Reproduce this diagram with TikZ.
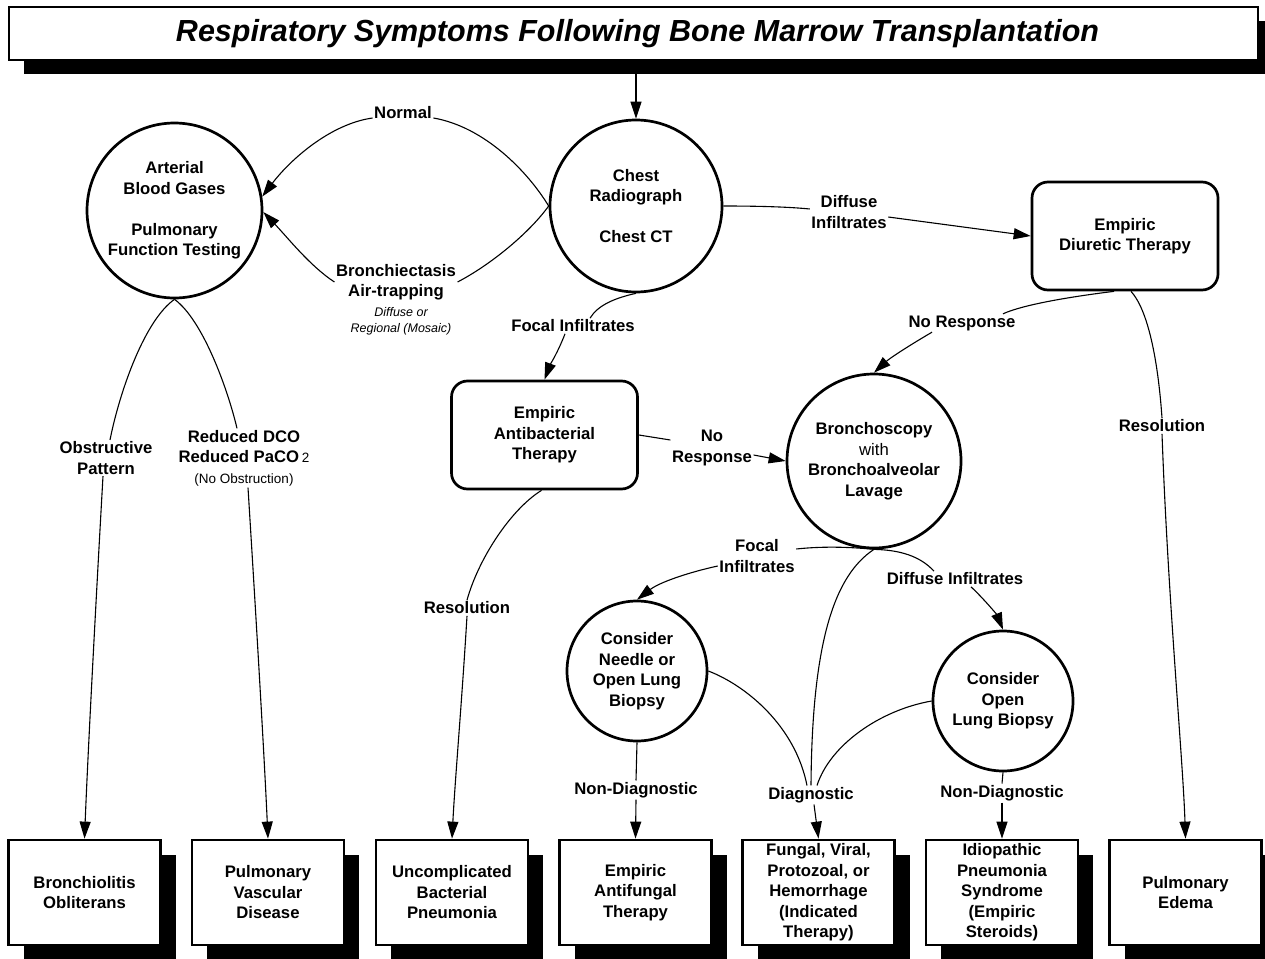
\documentclass[tikz,border=0pt]{standalone}
\usepackage{fontspec}
\setmainfont{Liberation Sans}
\usetikzlibrary{arrows.meta,shadows}
\begin{document}
\begin{tikzpicture}[x=1pt,y=-1pt,
  body/.style={font=\fontsize{16.7}{20.5}\selectfont\bfseries, align=center},
  circ/.style={body, draw, circle, line width=2.7pt, inner sep=0pt},
  rbox/.style={body, draw, rounded corners=16pt, line width=2.7pt, minimum width=186pt, minimum height=108pt, inner sep=0pt},
  shad/.style={drop shadow={shadow xshift=15pt, shadow yshift=-15pt, opacity=1, fill=black}},
  obox/.style={body, draw, fill=white, line width=2.8pt, minimum width=152pt, minimum height=105pt, inner sep=0pt, shad},
  lab/.style={body, inner sep=1.5pt},
  smalli/.style={font=\fontsize{12.5}{16}\selectfont\itshape, align=center, inner sep=1pt},
  con/.style={line width=1.1pt},
  arr/.style={con, -{Triangle[length=17pt,width=11pt]}}
]
\useasboundingbox (0,0) rectangle (1265,958);

% title
\node[draw, fill=white, line width=2.4pt, minimum width=1249pt, minimum height=53pt, inner sep=0pt,
  font=\fontsize{30.5}{34}\selectfont\bfseries\itshape,
  drop shadow={shadow xshift=15pt, shadow yshift=-14pt, opacity=1, fill=black}]
  (title) at (633.5,33.5) {\hspace*{8pt}Respiratory Symptoms Following Bone Marrow Transplantation};

% main nodes
\node[circ, minimum size=175pt] (abg) at (174.5,210.5) {Arterial\\Blood Gases\\[20.5pt]Pulmonary\\Function Testing};
\node[circ, minimum size=172pt] (chest) at (636,206) {Chest\\Radiograph\\[20.5pt]Chest CT};
\node[rbox] (diur) at (1125,236) {Empiric\\Diuretic Therapy};
\node[rbox] (antib) at (544.5,435) {Empiric\\Antibacterial\\Therapy};
\node[circ, minimum size=174pt] (bronch) at (874,461) {Bronchoscopy\\{\mdseries with}\\Bronchoalveolar\\Lavage};
\node[circ, minimum size=140pt] (needle) at (637,671) {Consider\\Needle or\\Open Lung\\Biopsy};
\node[circ, minimum size=140pt] (openl) at (1003,701) {Consider\\Open\\Lung Biopsy};

% outcome boxes
\node[obox] (b1) at (84.5,892.5) {Bronchiolitis\\Obliterans};
\node[obox] (b2) at (268,892.5) {Pulmonary\\Vascular\\Disease};
\node[obox] (b3) at (452,892.5) {Uncomplicated\\Bacterial\\Pneumonia};
\node[obox] (b4) at (635.5,892.5) {Empiric\\Antifungal\\Therapy};
\node[obox] (b5) at (818.5,892.5) {Fungal, Viral,\\Protozoal, or\\Hemorrhage\\(Indicated\\Therapy)};
\node[obox] (b6) at (1002,892.5) {Idiopathic\\Pneumonia\\Syndrome\\(Empiric\\Steroids)};
\node[obox] (b7) at (1185.5,892.5) {Pulmonary\\Edema};

% labels
\node[lab] (normal) at (403,113) {Normal};
\node[lab] (bxlab) at (396,282) {Bronchiectasis\\Air-trapping};
\node[smalli] (bxsub) at (401,321) {Diffuse or\\Regional (Mosaic)};
\node[lab] (difflab) at (849,212) {Diffuse\\Infiltrates};
\node[lab] (focal1) at (573,326) {Focal Infiltrates};
\node[lab] (nr1) at (962,323) {No Response};
\node[lab] (res1) at (1162,426) {Resolution};
\node[lab] (obs) at (106,458) {Obstructive\\Pattern};
\node[lab] (dco) at (244,458) {Reduced DCO\\Reduced PaCO\,{\mdseries\fontsize{13.5}{14}\selectfont 2}\\{\mdseries\fontsize{13.5}{15}\selectfont (No Obstruction)}};
\node[lab] (nr2) at (712,448) {No\\Response};
\node[lab] (res2) at (467,608) {Resolution};
\node[lab] (focal2) at (757,556) {Focal\\Infiltrates};
\node[lab] (diff2) at (955,579) {Diffuse Infiltrates};
\node[lab] (diag) at (811,795) {Diagnostic};
\node[lab] (nd1) at (636,790) {Non-Diagnostic};
\node[lab] (nd2) at (1002,793) {Non-Diagnostic};

% connectors
\coordinate (t0) at (636,74);
\draw[arr] (t0) -- (chest.north);

\draw[con] (chest.west) .. controls (528,172) and (485,127) .. ([yshift=-5pt]normal.east);
\draw[arr] ([yshift=-5pt]normal.west) .. controls (330,124) and (290,160) .. (abg.9);

\draw[con] (chest.west) .. controls (530,232) and (492,264) .. (bxlab.east);
\draw[arr] (bxlab.west) .. controls (310,266) and (288,238) .. (abg.-1);

\draw[con] (chest.east) .. controls (760,206) and (790,207) .. ([yshift=3pt]difflab.west);
\draw[arr] ([yshift=-5pt]difflab.east) -- (diur.west);

\draw[con] (chest.south) .. controls (615,298) and (598,305) .. ([xshift=17pt]focal1.north);
\draw[arr] ([xshift=-8pt]focal1.south) .. controls (558,352) and (550,365) .. (antib.north);

\draw[con] ([xshift=-11pt]diur.south) .. controls (1060,298) and (1020,306) .. ([xshift=41pt]nr1.north);
\draw[arr] ([xshift=-30pt]nr1.south) .. controls (910,345) and (890,358) .. (bronch.north);

\draw[con] ([xshift=6pt]diur.south) .. controls (1148,310) and (1158,360) .. (res1.north);
\draw[arr] (res1.south) .. controls (1168,600) and (1183,760) .. (b7.north);

\draw[con] (abg.south) .. controls (145,320) and (120,390) .. ([xshift=4pt]obs.north);
\draw[arr] ([xshift=-3pt]obs.south) .. controls (96,600) and (88,750) .. (b1.north);

\draw[con] (abg.south) .. controls (203,320) and (228,390) .. ([xshift=-7pt]dco.north);
\draw[arr] ([xshift=4pt]dco.south) .. controls (255,600) and (264,750) .. (b2.north);

\draw[con] (antib.east) -- ([yshift=8pt]nr2.west);
\draw[arr] ([yshift=-7pt]nr2.east) -- (bronch.west);

\draw[con] ([xshift=-3pt]antib.south) .. controls (510,510) and (478,560) .. (res2.north);
\draw[arr] (res2.south) .. controls (462,700) and (455,780) .. (b3.north);

\draw[con] (bronch.south) .. controls (840,546) and (815,547) .. ([yshift=7pt]focal2.east);
\draw[arr] ([yshift=-10pt]focal2.west) .. controls (690,572) and (660,582) .. (needle.north);

\draw[con] (bronch.south) .. controls (900,550) and (920,556) .. ([xshift=-21pt]diff2.north);
\draw[arr] ([xshift=16pt]diff2.south) .. controls (985,600) and (997,615) .. (openl.north);

\draw[con] (bronch.south) .. controls (835,575) and (812,640) .. (diag.north);
\draw[con] (needle.east) .. controls (745,685) and (795,725) .. ([xshift=-4pt]diag.north);
\draw[con] (openl.west) .. controls (880,710) and (830,745) .. ([xshift=6pt]diag.north);
\draw[arr] ([xshift=3pt]diag.south) -- (b5.north);

\draw[con] (needle.south) -- (nd1.north);
\draw[arr] (nd1.south) -- (b4.north);
\draw[con] (openl.south) -- (nd2.north);
\draw[arr] (nd2.south) -- (b6.north);
\end{tikzpicture}
\end{document}
